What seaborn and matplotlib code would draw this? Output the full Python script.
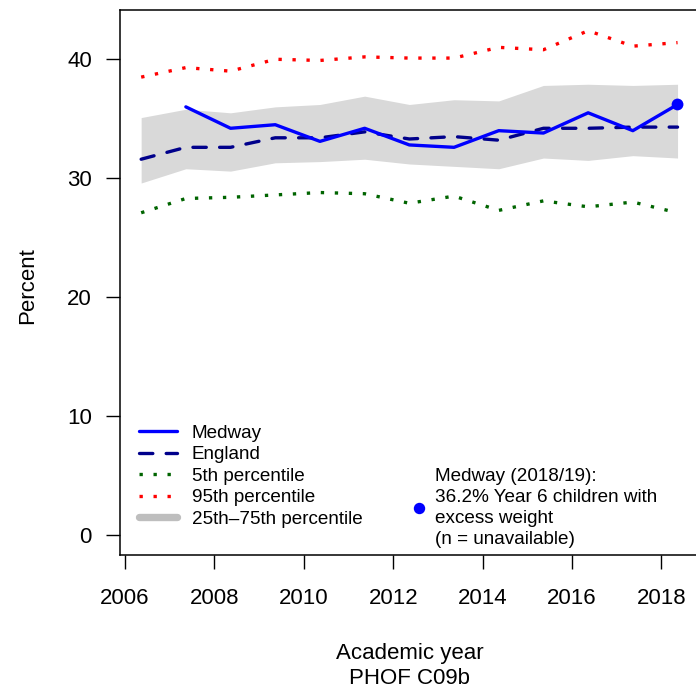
import numpy as np
import pandas as pd
import matplotlib
matplotlib.use("Agg")
import matplotlib.pyplot as plt
import matplotlib.transforms as mtransforms
import seaborn as sns
from matplotlib.lines import Line2D

# Year 6 children with excess weight (%), academic years 2006/07 .. 2018/19
start_year = [2006, 2007, 2008, 2009, 2010, 2011, 2012, 2013, 2014, 2015, 2016, 2017, 2018]
medway = [np.nan, 36.0, 34.2, 34.5, 33.1, 34.2, 32.8, 32.6, 34.0, 33.8, 35.5, 34.0, 36.2]
england = [31.6, 32.6, 32.6, 33.4, 33.4, 33.9, 33.3, 33.5, 33.2, 34.2, 34.2, 34.3, 34.3]
pct5 = [27.1, 28.3, 28.4, 28.6, 28.8, 28.7, 27.9, 28.5, 27.3, 28.1, 27.6, 28.0, 27.1]
pct25 = [29.6, 30.8, 30.6, 31.3, 31.4, 31.6, 31.2, 31.0, 30.8, 31.7, 31.5, 31.9, 31.7]
pct75 = [35.1, 35.8, 35.5, 36.0, 36.2, 36.9, 36.2, 36.6, 36.5, 37.8, 37.9, 37.8, 37.9]
pct95 = [38.5, 39.3, 39.0, 40.0, 39.9, 40.2, 40.1, 40.1, 41.0, 40.8, 42.4, 41.1, 41.4]
x_ticks = [2006, 2008, 2010, 2012, 2014, 2016, 2018]
y_ticks = [0, 10, 20, 30, 40]

# measurements fall part-way through each academic year
df = pd.DataFrame({
    "year": np.array(start_year) + 0.36,
    "medway": medway, "england": england,
    "p5": pct5, "p25": pct25, "p75": pct75, "p95": pct95,
})

sns.set_style("white")
plt.rcParams["font.family"] = ["Liberation Sans", "DejaVu Sans"]
for key in ("text.color", "axes.labelcolor", "xtick.color", "ytick.color", "axes.edgecolor"):
    plt.rcParams[key] = "black"

W, H = 696, 691
fig = plt.figure(figsize=(W / 100, H / 100), dpi=100)
ax = fig.add_axes([119.7 / W, (H - 555) / H, 579.3 / W, 545 / H])

LW = 2.4
DOT = (0, (1, 3.2))
DASH = (0, (4, 4))
ax.fill_between(df["year"], df["p25"], df["p75"], color="#D9D9D9", lw=0, zorder=1)
sns.lineplot(data=df, x="year", y="p95", ax=ax, color="red", lw=LW,
             linestyle=DOT, zorder=2)
sns.lineplot(data=df, x="year", y="p5", ax=ax, color="#006400", lw=LW,
             linestyle=DOT, zorder=2)
sns.lineplot(data=df, x="year", y="england", ax=ax, color="#00008B", lw=LW,
             linestyle=DASH, dash_capstyle="round", zorder=3)
sns.lineplot(data=df, x="year", y="medway", ax=ax, color="blue", lw=LW,
             solid_joinstyle="round", zorder=4)
last = df.dropna(subset=["medway"]).iloc[[-1]]
sns.scatterplot(data=last, x="year", y="medway", ax=ax, color="blue", s=72,
                edgecolor="none", zorder=5)

ax.set_xlim(2005.88, 2018.84)
ax.set_ylim(-1.66, 44.14)
ax.set_xticks(x_ticks)
ax.set_yticks(y_ticks)
ax.tick_params(axis="both", labelsize=16, length=10, width=1.0, color="black",
               direction="out", bottom=True, left=True)
ax.tick_params(axis="x", pad=13.7)
ax.tick_params(axis="y", pad=10)
for s in ax.spines.values():
    s.set_color("black")
    s.set_linewidth(1.1)

ax.set_ylabel("Percent", fontsize=16)
ax.set_xlabel("Academic year\nPHOF C09b", fontsize=16, linespacing=1.25)
ax.yaxis.set_label_coords(37.7 / W, (H - 285.5) / H, transform=fig.transFigure)
ax.xaxis.set_label_coords(
    0.5, (H - 643.5) / H,
    transform=mtransforms.blended_transform_factory(ax.transAxes, fig.transFigure))

FS = 13.6
handles = [
    Line2D([], [], color="blue", lw=LW),
    Line2D([], [], color="#00008B", lw=LW, linestyle=DASH, dash_capstyle="round"),
    Line2D([], [], color="#006400", lw=LW, linestyle=DOT),
    Line2D([], [], color="red", lw=LW, linestyle=DOT),
    Line2D([], [], color="#BEBEBE", lw=5.3, solid_capstyle="round"),
]
labels = ["Medway", "England", "5th percentile", "95th percentile", "25th\u201375th percentile"]
leg = ax.legend(handles, labels, loc="upper left", frameon=False, fontsize=FS,
                bbox_to_anchor=((139 - 119.7) / 579.3, (555 - 424.5) / 545),
                borderaxespad=0, borderpad=0, handlelength=2.0,
                handletextpad=0.8, labelspacing=0.23)
ax.add_artist(leg)

note = ("Medway (2018/19):\n36.2% Year 6 children with\n"
        "excess weight\n(n = unavailable)")
leg2 = ax.legend([Line2D([], [], color="blue", marker="o", ls="none", markersize=7.2)],
                 [note], loc="upper left", frameon=False, fontsize=FS,
                 bbox_to_anchor=((410 - 119.7) / 579.3, (555 - 468) / 545),
                 borderaxespad=0, borderpad=0, handlelength=1.0, handletextpad=0.34)
for t in leg2.get_texts():
    t.set_linespacing(1.31)

fig.savefig("out.png", dpi=100)
